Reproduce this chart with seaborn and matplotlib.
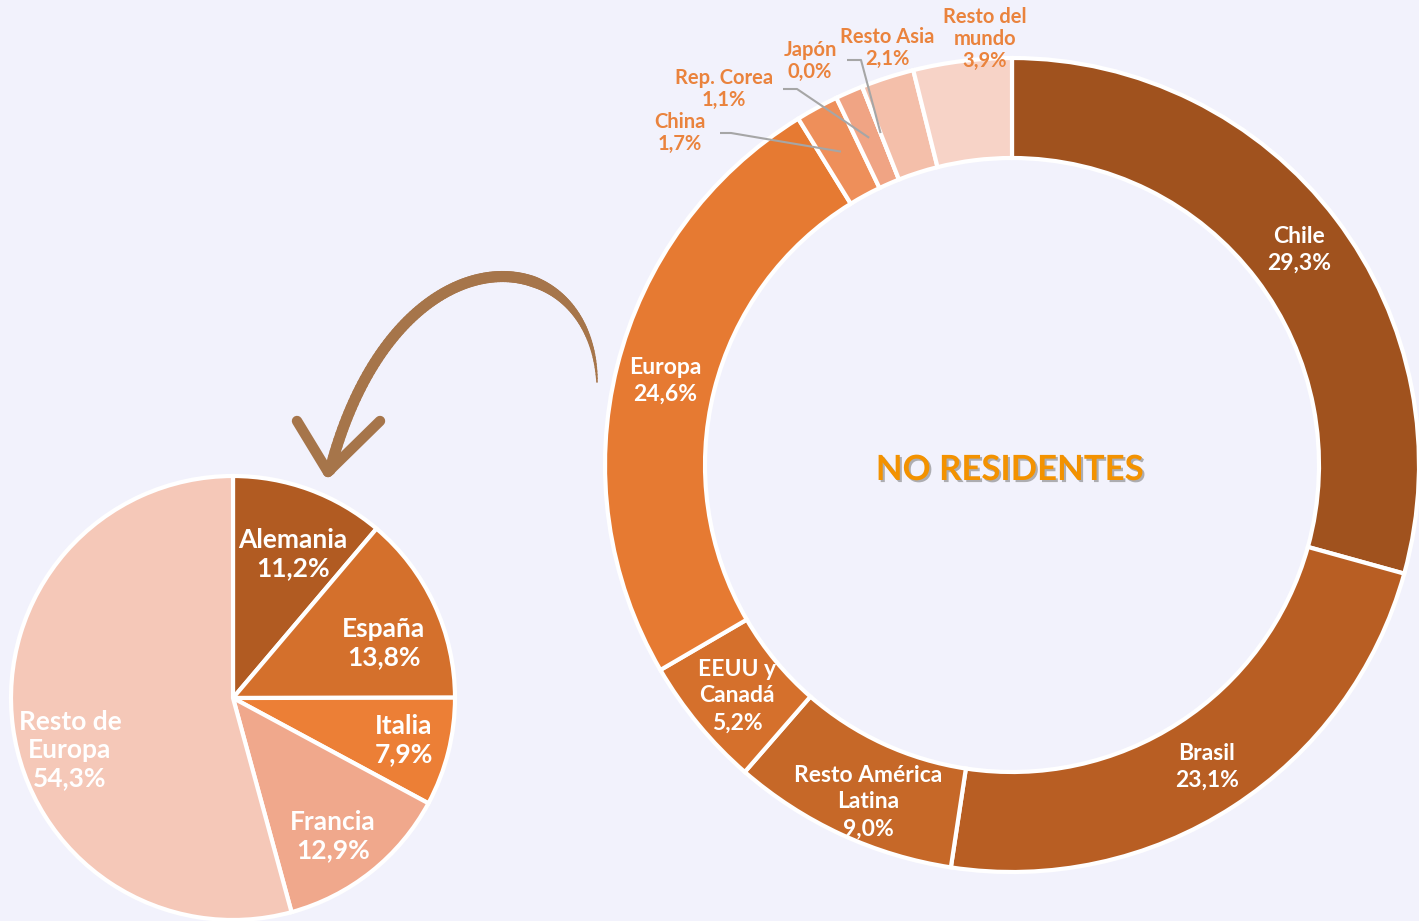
import numpy as np
import matplotlib.pyplot as plt
import matplotlib.patheffects as pe
from matplotlib.collections import LineCollection
import seaborn as sns

W, H = 1419, 921
BG = '#F2F2FC'

# No residentes por origen (donut, clockwise from top)
origen = ['Chile', 'Brasil', 'Resto América\nLatina', 'EEUU y\nCanadá', 'Europa',
          'China', 'Rep. Corea', 'Japón', 'Resto Asia', 'Resto del\nmundo']
origen_pct = [29.3, 23.1, 9.0, 5.2, 24.6, 1.7, 1.1, 0.0, 2.1, 3.9]
origen_colors = ['#A0521E', '#B85E23', '#C66828', '#D5702C', '#E67A32',
                 '#EE8F5A', '#F0A484', '#F2B093', '#F4BFAA', '#F7D3C7']

# Desglose de Europa (pie, clockwise from top)
europa = ['Alemania', 'España', 'Italia', 'Francia', 'Resto de\nEuropa']
europa_pct = [11.2, 13.8, 7.9, 12.9, 54.3]
europa_colors = ['#B15B22', '#D4702C', '#EC7F36', '#F0A88C', '#F5C8B8']


def fmt(v):
    return f"{v:.1f}".replace('.', ',') + '%'


def py(y):
    # picture rows -> data y (y up)
    return H - y


sns.set_theme(style='white', rc={'figure.facecolor': BG, 'axes.facecolor': BG})
plt.rcParams['font.family'] = ['Lato', 'DejaVu Sans']

fig = plt.figure(figsize=(W / 100, H / 100), dpi=100)
ax = fig.add_axes([0, 0, 1, 1])

# donut
d_center = (1012, py(465))
R, ring = 407, 100
wedges, _ = ax.pie(origen_pct, colors=origen_colors, startangle=90, counterclock=False,
                   center=d_center, radius=R,
                   wedgeprops=dict(width=ring, edgecolor='white', linewidth=3))


def mid_point(w, r):
    a = np.deg2rad((w.theta1 + w.theta2) / 2)
    return w.center[0] + r * np.cos(a), w.center[1] + r * np.sin(a)


in_pos = [(1299, 250), (1207, 767), (868, 802), (737, 696), (665, 381)]
for i, (x, y) in enumerate(in_pos):
    ax.text(x, py(y), origen[i] + '\n' + fmt(origen_pct[i]), ha='center', va='center',
            color='white', fontsize=16.5, fontweight='bold', linespacing=1.35)

# outside labels for the small slices
ext_color = '#EA833D'
ext_pos = {5: (680, 133), 6: (724, 89), 7: (810, 61), 8: (887, 48), 9: (985, 39)}
leaders = {5: [(720, 133), (731, 133)], 6: [(783, 89), (797, 89)], 7: [(847, 60), (861, 60)]}
for i, (x, y) in ext_pos.items():
    ax.text(x, py(y), origen[i] + '\n' + fmt(origen_pct[i]), ha='center', va='center',
            color=ext_color, fontsize=14.5, fontweight='bold', linespacing=1.15)
for i, pts in leaders.items():
    ex, ey = mid_point(wedges[i], R - ring / 2)
    xs = [p[0] for p in pts] + [ex]
    ys = [py(p[1]) for p in pts] + [ey]
    ax.plot(xs, ys, color='#A6A6A6', lw=1.5, solid_capstyle='butt')

ax.text(1010, py(470), 'NO RESIDENTES', ha='center', va='center', color='#F39200',
        fontsize=25, fontweight='bold',
        path_effects=[pe.withSimplePatchShadow(offset=(1.5, -1.5), shadow_rgbFace='#808080', alpha=0.6)])

# europa pie
p_center = (233, py(698))
ax.pie(europa_pct, colors=europa_colors, startangle=90, counterclock=False,
       center=p_center, radius=222,
       wedgeprops=dict(edgecolor='white', linewidth=3))
pie_pos = [(293, 554), (384, 643), (404, 740), (333, 836), (70, 750)]
for lab, v, (x, y) in zip(europa, europa_pct, pie_pos):
    ax.text(x, py(y), lab + '\n' + fmt(v), ha='center', va='center',
            color='white', fontsize=19, fontweight='bold', linespacing=1.22)

# curved arrow from Europa to the pie
arrow_c = '#A6754A'
p0, p1, p2, p3 = [np.array([a, py(b)]) for a, b in
                  [(597, 382), (592, 235), (395, 222), (330, 470)]]
t = np.linspace(0, 1, 120)[:, None]
curve = (1 - t) ** 3 * p0 + 3 * (1 - t) ** 2 * t * p1 + 3 * (1 - t) * t ** 2 * p2 + t ** 3 * p3
segs = np.stack([curve[:-1], curve[1:]], axis=1)
tt = t[:-1, 0]
widths = np.clip(1.2 + tt / 0.35 * 6.8, 1.2, 8)
ax.add_collection(LineCollection(segs, colors=arrow_c, linewidths=widths, capstyle='round'))
tip = (328, py(472))
for wx, wy in [(297, 421), (380, 421)]:
    ax.plot([wx, tip[0]], [py(wy), tip[1]], color=arrow_c, lw=7.5, solid_capstyle='round')

ax.set_xlim(0, W)
ax.set_ylim(0, H)
ax.set_aspect('equal')
ax.axis('off')

fig.savefig('out.png', dpi=100, facecolor=BG)
